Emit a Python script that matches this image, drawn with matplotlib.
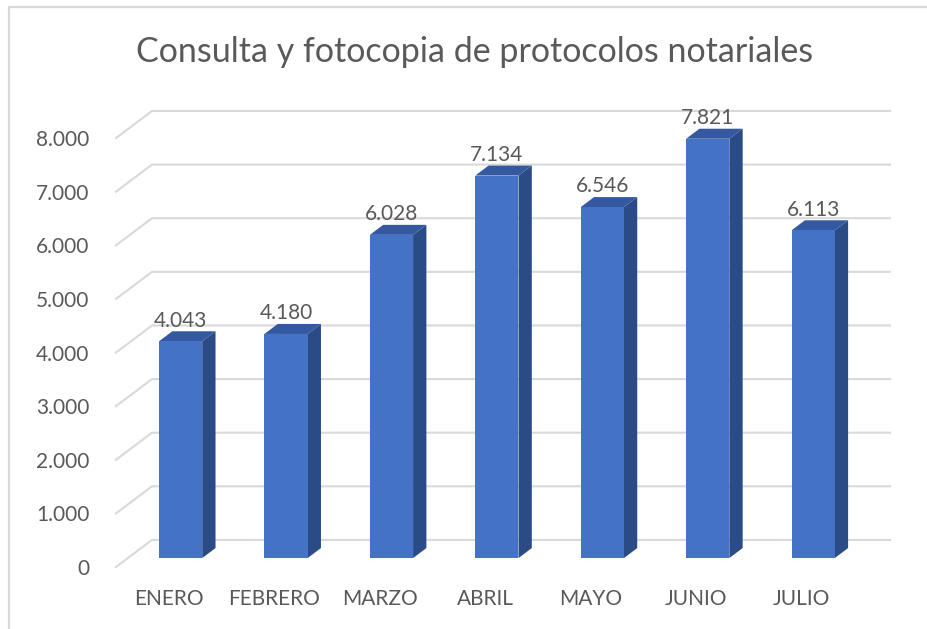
import matplotlib.pyplot as plt
from matplotlib.patches import Polygon

meses = ['ENERO', 'FEBRERO', 'MARZO', 'ABRIL', 'MAYO', 'JUNIO', 'JULIO']
valores = [4043, 4180, 6028, 7134, 6546, 7821, 6113]
ticks = [0, 1000, 2000, 3000, 4000, 5000, 6000, 7000, 8000]

# oblique depth vector (category units, value units)
DX = 0.3415
DY = 505
Z0 = 0.33
Z1 = 0.70
W = 0.205

c_front = '#4472C4'
c_top = '#3559A0'
c_side = '#2B4B87'
c_grid = '#D9D9D9'
c_text = '#595959'

plt.rcParams['font.family'] = ['Lato', 'DejaVu Sans']


def p(x, y, z):
    return (x + z * DX, y + z * DY)


def fmt(v):
    return '{:,}'.format(v).replace(',', '.')


fig = plt.figure(figsize=(9.27, 6.29), dpi=100)
fig.patches.append(plt.Line2D([8.5 / 927, 8.5 / 927, 1], [0, 1 - 6.5 / 629, 1 - 6.5 / 629],
                              transform=fig.transFigure, color='#D9D9D9', lw=1.6))

ax = fig.add_axes([116 / 927, 1 - 567 / 629, (890 - 116) / 927, (567 - 111) / 629])
n = len(meses)
ax.set_xlim(-0.5, n - 0.5 + DX)
ax.set_ylim(0, 8000 + DY)
for s in ax.spines.values():
    s.set_visible(False)

# gridlines: left wall diagonal + back wall
for t in ticks:
    a = p(-0.5, t, 0)
    b = p(-0.5, t, 1)
    c = p(n - 0.5, t, 1)
    ax.plot([a[0], b[0], c[0]], [a[1], b[1], c[1]], color=c_grid, lw=1.5,
            zorder=1, clip_on=False, solid_joinstyle='miter')

for i, v in enumerate(valores):
    front = [p(i - W, 0, Z0), p(i + W, 0, Z0), p(i + W, v, Z0), p(i - W, v, Z0)]
    side = [p(i + W, 0, Z0), p(i + W, 0, Z1), p(i + W, v, Z1), p(i + W, v, Z0)]
    top = [p(i - W, v, Z0), p(i + W, v, Z0), p(i + W, v, Z1), p(i - W, v, Z1)]
    ax.add_patch(Polygon(side, closed=True, fc=c_side, ec='none', zorder=3))
    ax.add_patch(Polygon(top, closed=True, fc=c_top, ec='none', zorder=3))
    ax.add_patch(Polygon(front, closed=True, fc=c_front, ec='none', zorder=4))
    lx, _ = p(i, v, Z0)
    _, ly = p(i, v, Z1)
    ax.annotate(fmt(v), (lx, ly), xytext=(0, 0.5), textcoords='offset points',
                ha='center', va='bottom', fontsize=15, color=c_text, zorder=5)

ax.set_yticks(ticks)
ax.set_yticklabels([fmt(t) for t in ticks])
ax.set_xticks(range(n))
ax.set_xticklabels(meses)
ax.tick_params(axis='both', length=0, colors=c_text, labelsize=15)
ax.tick_params(axis='y', pad=19)
ax.tick_params(axis='x', pad=16)

fig.text(475 / 927, 1 - 62 / 629, 'Consulta y fotocopia de protocolos notariales',
         ha='center', va='baseline', fontsize=24.5, color=c_text)

fig.savefig('out.png', dpi=100)
